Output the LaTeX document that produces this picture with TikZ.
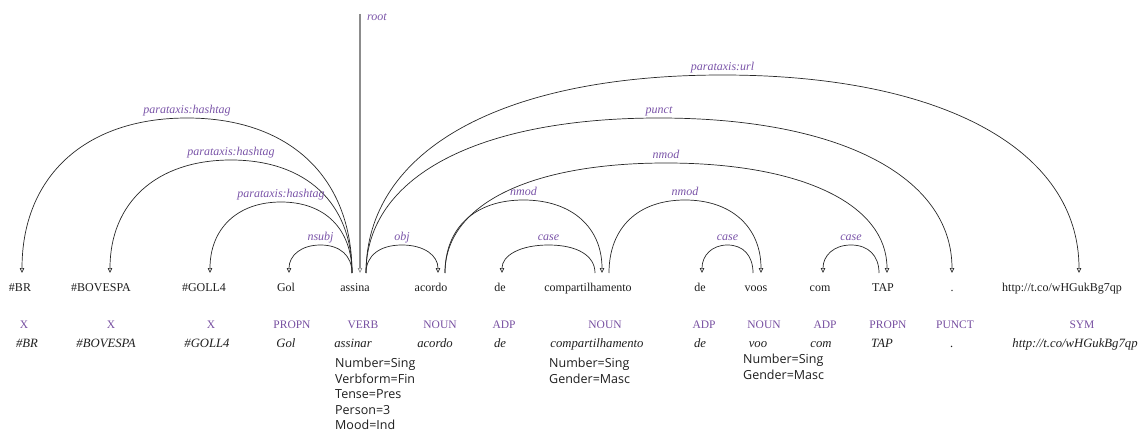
\documentclass[tikz,border=0pt]{standalone}
\usepackage{fontspec}
\setmainfont{Liberation Serif}
\newfontfamily\featfont{Open Sans}
\usetikzlibrary{arrows.meta,calc}
\definecolor{labc}{RGB}{122,84,168}
\definecolor{posc}{RGB}{118,78,160}
\definecolor{linec}{RGB}{40,40,40}
\definecolor{txtc}{RGB}{30,30,30}
\newcommand\kk{0.62}
\newcommand\deparc[5]{%
  \path ($(#1)!0.5!(#2)+(0,#3)$) coordinate (T#5);
  \draw[dep] (#1) .. controls ($(#1)!\kk!(#1|-T#5)$) and ($(T#5)!\kk!(#1|-T#5)$) .. (T#5)
     node[lbl] (#5) {#4}
     .. controls ($(T#5)!\kk!(#2|-T#5)$) and ($(#2)!\kk!(#2|-T#5)$) .. (#2);
}
\begin{document}
\begin{tikzpicture}[x=1pt,y=1pt,
  wordtok/.style={anchor=base,inner sep=0,text=txtc,font=\fontsize{12}{14}\selectfont},
  postag/.style={anchor=base,inner sep=0,text=posc,font=\fontsize{11.5}{14}\selectfont},
  lem/.style={anchor=base,inner sep=0,text=txtc,font=\fontsize{12.7}{14}\selectfont\itshape},
  feat/.style={anchor=base west,inner sep=0,text=txtc,font=\featfont\fontsize{12.5}{14}\selectfont},
  lbl/.style={anchor=base,yshift=4.5pt,inner sep=0,text=labc,font=\fontsize{12}{14}\selectfont\itshape},
  dep/.style={draw=linec,line width=0.7pt,-{Triangle[open,length=5pt,width=4.5pt]}},
  rootline/.style={draw=black!45,line width=1.6pt,-{Triangle[open,length=5pt,width=4.5pt,line width=0.7pt]}}]
\useasboundingbox (0,0) rectangle (1138,432);
% words
\node[wordtok] (w1) at (20,141) {\#BR};
\node[wordtok] (w2) at (101,141) {\#BOVESPA};
\node[wordtok] (w3) at (204,141) {\#GOLL4};
\node[wordtok] (w4) at (286,141) {Gol};
\node[wordtok] (w5) at (355,141) {assina};
\node[wordtok] (w6) at (431,141) {acordo};
\node[wordtok] (w7) at (500,141) {de};
\node[wordtok] (w8) at (588,141) {compartilhamento};
\node[wordtok] (w9) at (700,141) {de};
\node[wordtok] (w10) at (756,141) {voos};
\node[wordtok] (w11) at (820,141) {com};
\node[wordtok] (w12) at (883,141) {TAP};
\node[wordtok] (w13) at (952,141) {.};
\node[wordtok] (w14) at (1062,141) {http://t.co/wHGukBg7qp};
% POS
\node[postag] (p1) at (24,104) {X};
\node[postag] (p2) at (111,104) {X};
\node[postag] (p3) at (211,104) {X};
\node[postag] (p4) at (292,104) {PROPN};
\node[postag] (p5) at (363,104) {VERB};
\node[postag] (p6) at (440,104) {NOUN};
\node[postag] (p7) at (504,104) {ADP};
\node[postag] (p8) at (605,104) {NOUN};
\node[postag] (p9) at (704,104) {ADP};
\node[postag] (p10) at (764,104) {NOUN};
\node[postag] (p11) at (825,104) {ADP};
\node[postag] (p12) at (888,104) {PROPN};
\node[postag] (p13) at (955,104) {PUNCT};
\node[postag] (p14) at (1082,104) {SYM};
% lemmas
\node[lem] (l1) at (27,85) {\#BR};
\node[lem] (l2) at (106,85) {\#BOVESPA};
\node[lem] (l3) at (207,85) {\#GOLL4};
\node[lem] (l4) at (286,85) {Gol};
\node[lem] (l5) at (353,85) {assinar};
\node[lem] (l6) at (435,85) {acordo};
\node[lem] (l7) at (500,85) {de};
\node[lem] (l8) at (597,85) {compartilhamento};
\node[lem] (l9) at (700,85) {de};
\node[lem] (l10) at (758,85) {voo};
\node[lem] (l11) at (821,85) {com};
\node[lem] (l12) at (882,85) {TAP};
\node[lem] (l13) at (952,85) {.};
\node[lem] (l14) at (1075,85) {http://t.co/wHGukBg7qp};
% features
\node[feat] (f5a) at (335,65) {Number=Sing};
\node[feat] (f5b) at (335,49) {Verbform=Fin};
\node[feat] (f5c) at (335,34) {Tense=Pres};
\node[feat] (f5d) at (335,18) {Person=3};
\node[feat] (f5e) at (335,2.5) {Mood=Ind};
\node[feat] (f8a) at (549,65) {Number=Sing};
\node[feat] (f8b) at (549,49) {Gender=Masc};
\node[feat] (f10a) at (743,69) {Number=Sing};
\node[feat] (f10b) at (743,53) {Gender=Masc};
% arc end points
\coordinate (d1) at (22,159);
\coordinate (d2) at (110,159);
\coordinate (d3) at (210,159);
\coordinate (d4) at (289,159);
\coordinate (h5L) at (352,159);
\coordinate (h5R) at (366,159);
\coordinate (d5) at (360,159);
\coordinate (d6) at (438,159);
\coordinate (h6) at (445,159);
\coordinate (d7) at (502,159);
\coordinate (d8) at (602,159);
\coordinate (h8L) at (595,159);
\coordinate (h8R) at (609,159);
\coordinate (d9) at (702,159);
\coordinate (d10) at (761,159);
\coordinate (h10) at (753,159);
\coordinate (d11) at (823,159);
\coordinate (h12) at (879,159);
\coordinate (d12) at (887,159);
\coordinate (d13) at (952,159);
\coordinate (d14) at (1079,159);
\coordinate (rtop) at (360,418);
% root
\draw[rootline] (rtop) -- (d5);
\node[lbl,anchor=base west,yshift=0pt] (rootlbl) at (367,407) {root};
% arcs
\deparc{h5L}{d1}{155}{parataxis:hashtag}{a1}
\deparc{h5L}{d2}{113}{parataxis:hashtag}{a2}
\deparc{h5L}{d3}{71}{parataxis:hashtag}{a3}
\deparc{h5L}{d4}{28}{nsubj}{a4}
\deparc{h5R}{d6}{28}{obj}{a5}
\deparc{h6}{d8}{73}{nmod}{a6}
\deparc{h8L}{d7}{28}{case}{a7}
\deparc{h8R}{d10}{73}{nmod}{a8}
\deparc{h10}{d9}{28}{case}{a9}
\deparc{h12}{d11}{28}{case}{a10}
\deparc{h6}{d12}{110}{nmod}{a11}
\deparc{h5R}{d13}{155}{punct}{a12}
\deparc{h5R}{d14}{198}{parataxis:url}{a13}
\end{tikzpicture}
\end{document}
